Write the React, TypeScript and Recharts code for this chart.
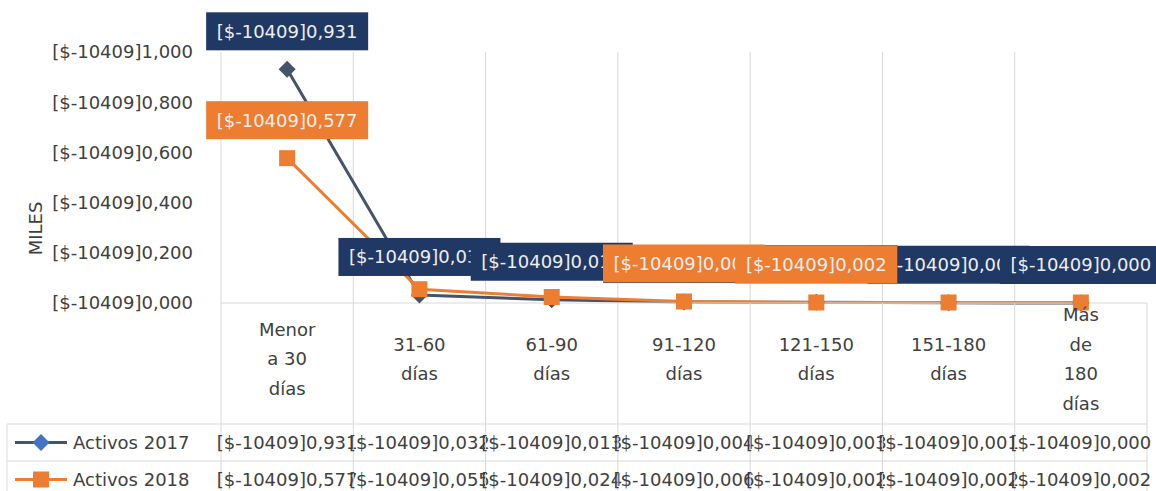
import React from "react";
import { LineChart, Line, XAxis, YAxis, CartesianGrid, LabelList } from "recharts";

const categories = [
  "Menor\na 30\ndías",
  "31-60\ndías",
  "61-90\ndías",
  "91-120\ndías",
  "121-150\ndías",
  "151-180\ndías",
  "Más\nde\n180\ndías",
];
const activos2017 = [0.931, 0.032, 0.013, 0.004, 0.003, 0.001, 0.0];
const activos2018 = [0.577, 0.055, 0.024, 0.006, 0.002, 0.002, 0.002];
const yTicks = [0, 0.2, 0.4, 0.6, 0.8, 1.0];
const seriesNames = ["Activos 2017", "Activos 2018"];
// Excel only kept some of the 2018 data labels
const labelShown2018 = [true, false, false, true, true, false, false];

const data = categories.map((cat, i) => ({
  cat,
  a2017: activos2017[i],
  a2018: activos2018[i],
}));

const W = 1156;
const H = 491;
const LEFT = 221;
const RIGHT = 9;
const TOP = 52;
const XAXIS_H = 188;
const STEP = (W - LEFT - RIGHT) / categories.length;

const FONT = "DejaVu Sans";
const GRID = "#d9d9d9";
const TEXT = "#404040";
const NAVY_LINE = "#44546A";
const NAVY_BOX = "#203864";
const ORANGE = "#ED7D31";
const LEGEND_BLUE = "#4472C4";

const fmt = (v: number) => `[$-10409]${v.toFixed(3).replace(".", ",")}`;

const diamondPath = (cx: number, cy: number, r: number) =>
  `M${cx},${cy - r}L${cx + r},${cy}L${cx},${cy + r}L${cx - r},${cy}Z`;

const Diamond = (props: any) => {
  const { cx, cy, index } = props;
  return <path key={`d${index}`} d={diamondPath(cx, cy, 8.5)} fill={NAVY_LINE} />;
};

const Square = (props: any) => {
  const { cx, cy, index } = props;
  return <rect key={`s${index}`} x={cx - 8} y={cy - 8} width={16} height={16} fill={ORANGE} />;
};

const makeLabel = (fill: string, shown?: boolean[]) => (props: any) => {
  const { x, y, value, index } = props;
  if (shown && !shown[index]) return null;
  const w = 162;
  const h = 38;
  const cy = y - 38;
  return (
    <g key={`l${fill}${index}`}>
      <rect x={x - w / 2} y={cy - h / 2} width={w} height={h} fill={fill} />
      <text x={x} y={cy} dy="0.36em" textAnchor="middle" fill="#eeeeee" fontSize={18} fontFamily={FONT}>
        {fmt(Number(value))}
      </text>
    </g>
  );
};

const CategoryTick = (props: any) => {
  const { x, y, payload, index } = props;
  const lines = String(payload.value).split("\n");
  const left = x - STEP / 2;
  const right = x + STEP / 2;
  const lh = 29.5;
  const cy = y + 56;
  const row1 = y + 121;
  const row2 = y + 158;
  const bottom = y + 200;
  const rows = [activos2017, activos2018];
  return (
    <g>
      <line x1={left} y1={y} x2={left} y2={bottom} stroke={GRID} />
      {index === categories.length - 1 && <line x1={right} y1={y} x2={right} y2={bottom} stroke={GRID} />}
      <line x1={left} y1={row1} x2={right} y2={row1} stroke={GRID} />
      <line x1={left} y1={row2} x2={right} y2={row2} stroke={GRID} />
      <text textAnchor="middle" fill={TEXT} fontSize={18} fontFamily={FONT}>
        {lines.map((l, i) => (
          <tspan key={i} x={x} y={cy + (i - (lines.length - 1) / 2) * lh} dy="0.36em">
            {l}
          </tspan>
        ))}
      </text>
      {rows.map((vals, r) => (
        <text
          key={r}
          x={x}
          y={(r === 0 ? row1 : row2) + 18.5}
          dy="0.36em"
          textAnchor="middle"
          fill={TEXT}
          fontSize={18}
          fontFamily={FONT}
        >
          {fmt(vals[index])}
        </text>
      ))}
      {index === 0 && (
        <g>
          <line x1={7} y1={row1} x2={left} y2={row1} stroke={GRID} />
          <line x1={7} y1={row2} x2={left} y2={row2} stroke={GRID} />
          <line x1={7} y1={row1} x2={7} y2={bottom} stroke={GRID} />
          <line x1={15} y1={row1 + 18.5} x2={67} y2={row1 + 18.5} stroke={NAVY_LINE} strokeWidth={3} />
          <path d={diamondPath(41, row1 + 18.5, 8.5)} fill={LEGEND_BLUE} />
          <text x={73} y={row1 + 18.5} dy="0.36em" fill={TEXT} fontSize={18} fontFamily={FONT}>
            {seriesNames[0]}
          </text>
          <line x1={15} y1={row2 + 18.5} x2={67} y2={row2 + 18.5} stroke={ORANGE} strokeWidth={3} />
          <rect x={33} y={row2 + 10.5} width={16} height={16} fill={ORANGE} />
          <text x={73} y={row2 + 18.5} dy="0.36em" fill={TEXT} fontSize={18} fontFamily={FONT}>
            {seriesNames[1]}
          </text>
        </g>
      )}
    </g>
  );
};

const MilesLabel = (props: any) => {
  const { viewBox } = props;
  const x = viewBox.x + 36;
  const y = viewBox.y + viewBox.height / 2 + 51;
  return (
    <text
      x={x}
      y={y}
      transform={`rotate(-90, ${x}, ${y})`}
      textAnchor="middle"
      dy="0.36em"
      fill={TEXT}
      fontSize={18}
      fontFamily={FONT}
    >
      MILES
    </text>
  );
};

export default function App() {
  return (
    <div style={{ position: "absolute", left: 0, top: 0, background: "#fff" }}>
      <LineChart
        width={W}
        height={H}
        data={data}
        margin={{ top: TOP, right: RIGHT, left: 0, bottom: 0 }}
        style={{ fontFamily: FONT }}
      >
        <CartesianGrid
          horizontal={false}
          stroke={GRID}
          verticalCoordinatesGenerator={({ offset }: any) =>
            categories.map((_, i) => offset.left + (i * offset.width) / categories.length)
          }
        />
        <XAxis
          dataKey="cat"
          interval={0}
          height={XAXIS_H}
          padding={{ left: STEP / 2, right: STEP / 2 }}
          tickLine={false}
          tickSize={0}
          tickMargin={0}
          axisLine={{ stroke: GRID }}
          tick={<CategoryTick />}
        />
        <YAxis
          width={LEFT}
          domain={[0, 1]}
          ticks={yTicks}
          axisLine={false}
          tickLine={false}
          tickSize={0}
          tickMargin={28}
          tickFormatter={fmt}
          tick={{ fill: TEXT, fontSize: 18, fontFamily: FONT }}
          label={<MilesLabel />}
        />
        <Line
          dataKey="a2017"
          name={seriesNames[0]}
          stroke={NAVY_LINE}
          strokeWidth={3}
          dot={<Diamond />}
          activeDot={false}
          isAnimationActive={false}
        />
        <Line
          dataKey="a2018"
          name={seriesNames[1]}
          stroke={ORANGE}
          strokeWidth={3}
          dot={<Square />}
          activeDot={false}
          isAnimationActive={false}
        />
        <Line dataKey="a2017" stroke="none" dot={false} activeDot={false} isAnimationActive={false} legendType="none">
          <LabelList dataKey="a2017" content={makeLabel(NAVY_BOX)} />
        </Line>
        <Line dataKey="a2018" stroke="none" dot={false} activeDot={false} isAnimationActive={false} legendType="none">
          <LabelList dataKey="a2018" content={makeLabel(ORANGE, labelShown2018)} />
        </Line>
      </LineChart>
    </div>
  );
}
